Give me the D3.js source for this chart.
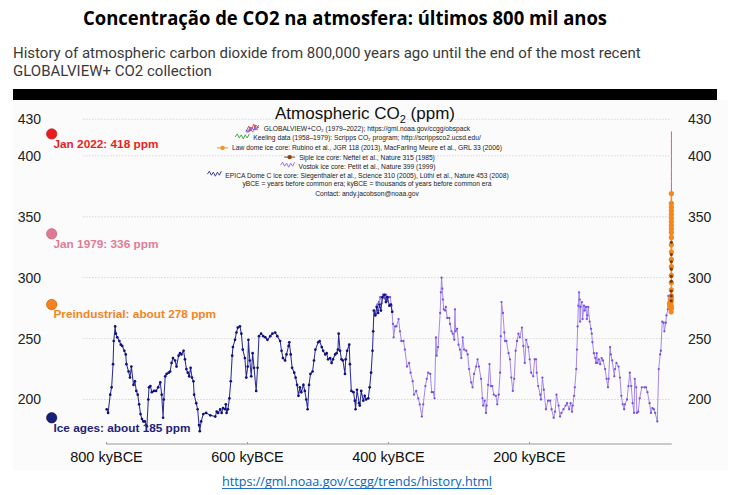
<!DOCTYPE html>
<html><head><meta charset="utf-8">
<script src="https://cdn.jsdelivr.net/npm/d3@7"></script>
<style>body{margin:0;background:#fff;} svg{display:block;}</style>
</head><body>
<script>
const title = "Concentração de CO2 na atmosfera: últimos 800 mil anos";
const subtitle = ["History of atmospheric carbon dioxide from 800,000 years ago until the end of the most recent", "GLOBALVIEW+ CO2 collection"];
const chartTitle = ["Atmospheric CO", "2", " (ppm)"];
const yTicks = [200, 250, 300, 350, 400, 430];
const xTicks = [800, 600, 400, 200];
const xTickLabels = ["800 kyBCE", "600 kyBCE", "400 kyBCE", "200 kyBCE"];
const urlText = "https://gml.noaa.gov/ccgg/trends/history.html";

// [kyBCE, ppm]
const epica = [[799,192],[797,189],[794,204],[792,210],[790,229],[789,248],[787,260],[786,254],[784,251],[781,248],[779,245],[777,244],[774,240],[772,237],[771,229],[768,223],[766,218],[764,227],[761,212],[759,215],[757,207],[755,204],[753,196],[751,188],[749,184],[747,182],[745,182],[742,178],[740,200],[739,210],[737,211],[735,206],[732,207],[729,207],[726,210],[723,214],[721,204],[719,185],[718,200],[716,219],[714,221],[711,222],[709,223],[707,230],[705,234],[702,232],[700,227],[697,236],[695,238],[693,237],[690,240],[688,233],[686,225],[684,222],[682,219],[680,226],[678,218],[676,215],[675,204],[672,197],[670,192],[668,179],[667,174],[665,182],[662,188],[658,189],[652,187],[645,186],[643,190],[641,189],[638,192],[636,189],[634,193],[631,192],[630,196],[629,189],[627,192],[625,201],[623,215],[621,236],[620,243],[617,249],[615,255],[613,259],[610,260],[608,254],[606,241],[603,234],[601,218],[599,227],[598,249],[596,232],[594,219],[592,238],[590,226],[587,207],[585,226],[583,252],[580,254],[577,252],[574,251],[571,249],[567,252],[564,254],[560,255],[557,252],[553,248],[551,240],[549,234],[546,232],[544,237],[541,244],[540,247],[538,237],[536,226],[533,222],[531,218],[529,212],[527,203],[525,210],[523,206],[520,212],[518,207],[516,200],[514,192],[512,212],[510,221],[507,223],[505,232],[503,241],[499,247],[497,248],[494,243],[492,240],[489,237],[487,238],[485,233],[482,234],[480,230],[478,233],[475,237],[473,238],[471,241],[470,254],[468,240],[466,233],[464,232],[461,221],[460,233],[458,240],[455,245],[454,229],[452,207],[449,206],[447,199],[446,192],[444,208],[441,197],[440,195],[438,207],[435,199],[433,203],[431,200],[428,201],[426,210],[424,222],[422,240],[421,256],[420,273],[418,269],[416,276],[414,271],[412,278],[410,273],[408,284],[405,286],[403,280],[401,284],[398,277],[396,278],[394,272]];

const vostok = [[417,270],[415,278],[413,280],[411,284],[409,279],[407,286],[405,283],[403,286],[401,281],[399,284],[397,284],[395,277],[393,262],[392,251],[390,260],[388,260],[385,266],[383,256],[381,248],[378,248],[376,241],[373,227],[370,230],[368,222],[365,215],[363,204],[360,207],[357,201],[355,196],[352,186],[350,196],[347,211],[345,217],[343,222],[340,221],[338,206],[336,206],[334,201],[332,251],[331,236],[329,243],[326,271],[325,288],[324,300],[323,291],[322,282],[321,274],[319,273],[318,276],[316,267],[313,267],[312,262],[310,256],[308,254],[306,249],[305,274],[304,256],[302,258],[300,245],[298,241],[296,234],[294,251],[292,241],[289,240],[287,237],[285,225],[282,214],[280,210],[278,221],[275,227],[273,233],[271,227],[268,217],[266,201],[265,195],[263,199],[261,189],[260,195],[258,212],[256,229],[254,211],[252,211],[250,204],[247,203],[245,196],[243,204],[241,222],[240,252],[239,280],[237,271],[235,255],[234,248],[232,248],[229,238],[227,233],[225,218],[223,207],[221,217],[219,240],[217,248],[215,254],[213,251],[210,259],[208,244],[206,230],[204,249],[201,243],[199,233],[197,222],[194,219],[192,233],[190,233],[189,222],[187,211],[184,204],[183,200],[181,218],[179,208],[176,192],[173,199],[170,199],[168,192],[165,185],[163,190],[161,204],[158,195],[156,186],[154,189],[151,192],[148,195],[146,197],[143,192],[141,197],[139,190],[138,195],[136,203],[135,210],[133,225],[132,241],[131,260],[130,277],[129,288],[128,282],[127.5,264],[127,276],[125,280],[124,266],[122,277],[121,273],[119,276],[118,266],[117,269],[116,276],[114,264],[112,258],[111,254],[110,247],[108,238],[106,234],[105,230],[104,238],[103,230],[101,233],[99,229],[97,234],[95,232],[92,225],[90,217],[88,210],[87,217],[85,243],[84,237],[82,232],[79,219],[78,225],[76,230],[73,227],[71,218],[69,203],[67,196],[65,192],[64,196],[61,200],[59,211],[57,222],[55,211],[53,197],[51,189],[50,217],[48,210],[47,189],[45,190],[43,201],[40,210],[36,210],[34,210],[32,206],[29,197],[27,189],[25,193],[23,192],[21,189],[18,182],[16,225],[14,237],[13,240],[11,264],[9,263],[8,256],[6,263],[5,269],[3,274],[2.3,285]];

const lawDome = [[0.5,279],[0,277],[-0.3,278],[-0.6,279],[-0.9,280],[-1.1,281],[-1.3,282],[-1.5,280],[-1.6,275],[-1.65,272],[-1.7,275],[-1.75,277],[-1.8,283],[-1.85,285],[-1.88,290],[-1.9,296],[-1.92,302],[-1.94,309],[-1.955,315],[-1.965,321],[-1.972,327],[-1.978,333],[-1.982,337],[-1.984,340],[-1.986,343],[-1.988,346],[-1.99,349],[-1.992,352],[-1.994,355],[-1.996,358],[-1.998,361],[-2.004,369]];
const siple = [[-1.75,281],[-1.8,285],[-1.85,289],[-1.88,297],[-1.9,301],[-1.92,307],[-1.94,313],[-1.95,319],[-1.96,329]];
const keeling = [[-1.958,315],[-1.965,320],[-1.97,325],[-1.975,331],[-1.979,336]];
const globalview = [[-1.979,336],[-1.985,346],[-1.99,354],[-1.995,361],[-2.0,369],[-2.005,379],[-2.01,389],[-2.015,400],[-2.02,414],[-2.022,420]];

const markers = [
  {label:"Jan 2022: 418 ppm", ppm:418, fill:"#ec1c1c", stroke:"#b01010", text:"#ee1d1d"},
  {label:"Jan 1979: 336 ppm", ppm:336, fill:"#e07a94", stroke:"#b85a72", text:"#e27b95"},
  {label:"Preindustrial: about 278 ppm", ppm:278, fill:"#f5821f", stroke:"#b85a10", text:"#f5841f"},
  {label:"Ice ages: about 185 ppm", ppm:185, fill:"#16207a", stroke:"#0a0f40", text:"#1b237e"}
];

const legendLines = [
  {t:"GLOBALVIEW+CO\u2082 (1979\u20132022); https://gml.noaa.gov/ccgg/obspack", icon:"gv"},
  {t:"Keeling data (1958\u20131979): Scripps CO\u2082 program; http://scrippsco2.ucsd.edu/", icon:"keeling"},
  {t:"Law dome ice core:  Rubino et al., JGR 118 (2013), MacFarling Meure et al., GRL 33 (2006)", icon:"law"},
  {t:"Siple ice core:  Neftel et al., Nature 315 (1985)", icon:"siple"},
  {t:"Vostok ice core:  Petit et al., Nature 399 (1999)", icon:"vostok"},
  {t:"EPICA Dome C ice core:  Siegenthaler et al., Science 310 (2005), L\u00fcthi et al., Nature 453 (2008)", icon:"epica"},
  {t:"yBCE = years before common era; kyBCE = thousands of years before common era", icon:null},
  {t:"Contact: andy.jacobson@noaa.gov", icon:null}
];

const W = 732, H = 495;
const svg = d3.select("body").append("svg").attr("width", W).attr("height", H);
svg.append("rect").attr("width", W).attr("height", H).attr("fill", "#fff");

svg.append("text").attr("x", 345).attr("y", 25).attr("text-anchor", "middle")
  .attr("font-family", "Open Sans, sans-serif").attr("font-weight", 700).attr("font-size", 19)
  .attr("fill", "#000").attr("textLength", 524).attr("lengthAdjust", "spacingAndGlyphs").text(title);

subtitle.forEach((s, i) => {
  svg.append("text").attr("x", 13).attr("y", 58 + i * 18)
    .attr("font-family", "Roboto, sans-serif").attr("font-size", 15).attr("fill", "#3a3a3a").text(s);
});

// panel
svg.append("rect").attr("x", 13).attr("y", 100).attr("width", 715).attr("height", 370).attr("fill", "#fbfbfb");
svg.append("rect").attr("x", 13).attr("y", 89).attr("width", 704).attr("height", 11).attr("fill", "#000");

const x = d3.scaleLinear().domain([800, 0]).range([106, 670]);
const y = d3.scaleLinear().domain([200, 430]).range([399.5, 119.3]);

// gridlines
svg.append("g").selectAll("line").data(yTicks).join("line")
  .attr("x1", 83).attr("x2", 671).attr("y1", d => y(d)).attr("y2", d => y(d))
  .attr("stroke", "#cfcfcf").attr("stroke-width", 0.8).attr("stroke-dasharray", "1.5,1.5");

// y axes
const yl = svg.append("g").attr("transform", "translate(41,0)")
  .call(d3.axisLeft(y).tickValues(yTicks).tickSize(0).tickPadding(0));
const yr = svg.append("g").attr("transform", "translate(688,0)")
  .call(d3.axisRight(y).tickValues(yTicks).tickSize(0).tickPadding(0));
[yl, yr].forEach(g => {
  g.select(".domain").remove();
  g.selectAll("text").attr("font-family", "Liberation Sans, Arial, sans-serif").attr("font-size", 14).attr("fill", "#222");
});

// x axis
const xa = svg.append("g").attr("transform", "translate(0,444)")
  .call(d3.axisBottom(x).tickValues(xTicks).tickFormat((d, i) => xTickLabels[i]).tickSizeInner(-2).tickSizeOuter(0).tickPadding(7.5));
xa.select(".domain").attr("stroke", "#9a9a9a").attr("d", `M${x(800)},0H${x(-2.5)}`);
xa.selectAll(".tick line").attr("stroke", "#9a9a9a");
xa.selectAll("text").attr("font-family", "Liberation Sans, Arial, sans-serif").attr("font-size", 14.5).attr("fill", "#111");

const line = d3.line().x(d => x(d[0])).y(d => y(d[1]));

// Vostok
svg.append("path").datum(vostok).attr("d", line).attr("fill", "none").attr("stroke", "#9b7af0").attr("stroke-width", 0.9);
svg.append("g").selectAll("circle").data(vostok).join("circle")
  .attr("cx", d => x(d[0])).attr("cy", d => y(d[1])).attr("r", 1.15).attr("fill", "#7a50e0");

// EPICA
svg.append("path").datum(epica).attr("d", line).attr("fill", "none").attr("stroke", "#2e2e98").attr("stroke-width", 1.05);
svg.append("g").selectAll("circle").data(epica).join("circle")
  .attr("cx", d => x(d[0])).attr("cy", d => y(d[1])).attr("r", 1.35).attr("fill", "#10107e");

// GLOBALVIEW
svg.append("path").datum(globalview).attr("d", line).attr("fill", "none").attr("stroke", "#f05a5a").attr("stroke-width", 1);
// Keeling
svg.append("path").datum(keeling).attr("d", line).attr("fill", "none").attr("stroke", "#3aa040").attr("stroke-width", 1);
// Law Dome
svg.append("path").datum(lawDome).attr("d", line).attr("fill", "none").attr("stroke", "#f7931e").attr("stroke-width", 1.5);
svg.append("g").selectAll("circle").data(lawDome).join("circle")
  .attr("cx", d => x(d[0])).attr("cy", d => y(d[1])).attr("r", 2.6).attr("fill", "#f7871a");
// Siple
svg.append("g").selectAll("circle").data(siple).join("circle")
  .attr("cx", d => x(d[0])).attr("cy", d => y(d[1])).attr("r", 1.6).attr("fill", "#7a3d10");

// markers
markers.forEach(m => {
  svg.append("circle").attr("cx", 51.7).attr("cy", y(m.ppm)).attr("r", 5.2)
    .attr("fill", m.fill).attr("stroke", m.stroke).attr("stroke-width", 0.6);
  svg.append("text").attr("x", 53.5).attr("y", y(m.ppm) + 14)
    .attr("font-family", "Liberation Sans, Arial, sans-serif").attr("font-weight", 700).attr("font-size", 11.8)
    .attr("fill", m.text).text(m.label);
});

// chart title
const ct = svg.append("text").attr("x", 365).attr("y", 119).attr("text-anchor", "middle")
  .attr("font-family", "Liberation Sans, Arial, sans-serif").attr("font-size", 17).attr("fill", "#111");
ct.append("tspan").text(chartTitle[0]);
ct.append("tspan").attr("font-size", 11).attr("dy", 4).text(chartTitle[1]);
ct.append("tspan").attr("dy", -4).text(chartTitle[2]);

// legend
const zig = [[0,3],[2,0],[4,4],[6,1],[8,5],[10,1],[12,4],[14,0]];
const iconDefs = {
  gv: [{c:"#e83030",pts:[[0,8],[3,2],[5,7],[8,0],[10,6],[13,1]]},{c:"#4040c0",pts:[[0,6],[3,8],[5,3],[8,6],[10,1],[13,4]]},{c:"#a060e0",pts:[[1,9],[4,4],[7,8],[10,3],[12,6]]}],
  keeling: [{c:"#30a030",pts:zig}],
  vostok: [{c:"#8a60e8",pts:zig}],
  epica: [{c:"#2a2a9a",pts:zig}]
};
const legendBaselines = [130.5, 140.3, 150.3, 159.5, 168.6, 177.6, 186.3, 195.8];
legendLines.forEach((l, i) => {
  const tx = svg.append("text").attr("x", 367).attr("y", legendBaselines[i]).attr("text-anchor", "middle")
    .attr("font-family", "Liberation Sans, Arial, sans-serif").attr("font-size", 6.7).attr("fill", "#222").text(l.t);
  if (!l.icon) return;
  const w = tx.node().getComputedTextLength();
  const x0 = 367 - w / 2;
  const cy = legendBaselines[i] - 2.4;
  const g = svg.append("g");
  if (l.icon === "law" || l.icon === "siple") {
    const col = l.icon === "law" ? "#f7931e" : "#8b4513";
    g.append("line").attr("x1", x0 - 15).attr("x2", x0 - 4).attr("y1", cy).attr("y2", cy).attr("stroke", col).attr("stroke-width", 1);
    g.append("circle").attr("cx", x0 - 9.5).attr("cy", cy).attr("r", 2.2).attr("fill", col);
  } else {
    const lg = d3.line().x(p => x0 - 18 + p[0]).y(p => cy - 4 + p[1]);
    iconDefs[l.icon].forEach(s => {
      g.append("path").attr("d", lg(s.pts)).attr("fill", "none").attr("stroke", s.c).attr("stroke-width", 0.9);
    });
  }
});

// url
svg.append("text").attr("x", 357).attr("y", 486).attr("text-anchor", "middle")
  .attr("font-family", "Open Sans, sans-serif").attr("font-size", 12.5).attr("fill", "#0563c1")
  .attr("textLength", 270).attr("lengthAdjust", "spacingAndGlyphs").text(urlText);
svg.append("line").attr("x1", 222).attr("x2", 492).attr("y1", 488.5).attr("y2", 488.5).attr("stroke", "#0563c1").attr("stroke-width", 0.9);
</script>
</body></html>
